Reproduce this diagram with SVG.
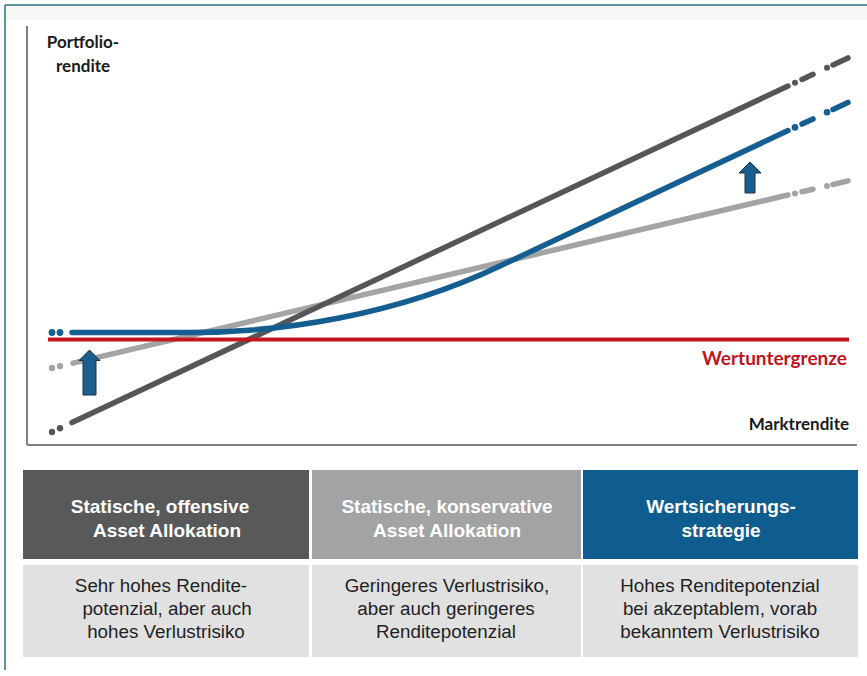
<svg xmlns="http://www.w3.org/2000/svg" width="867" height="676" viewBox="0 0 867 676">
<style>
.lbl{font-family:Lato,"Liberation Sans",sans-serif;font-weight:bold;fill:#1a1a1a}
.hd{font-family:"Liberation Sans",Arial,sans-serif;font-weight:bold;font-size:19px;fill:#ffffff;text-anchor:middle}
.bd{font-family:"Liberation Sans",Arial,sans-serif;font-size:18.8px;fill:#1f1f1f;text-anchor:middle}
.ln{fill:none;stroke-linecap:round;stroke-width:5.5}
.dk{stroke:#555658}.dkf{fill:#555658}
.lt{stroke:#a4a4a4}.ltf{fill:#a4a4a4}
.bl{stroke:#155e92}.blf{fill:#155e92}
.arrow{fill:#1b5d8c;stroke:#163449;stroke-width:1}
</style>
<rect x="0" y="0" width="867" height="676" fill="#ffffff"/>
<rect x="6" y="6" width="861" height="14" fill="#f6f7f7"/>
<g id="frame" stroke="#2e6f86" stroke-width="1.5" fill="none">
  <line x1="5" y1="5" x2="867" y2="5"/>
  <line x1="5" y1="5" x2="5" y2="670"/>
</g>
<g id="axes" stroke="#808080" stroke-width="2" fill="none">
  <line x1="27" y1="26" x2="27" y2="445"/>
  <line x1="27" y1="445" x2="857" y2="445"/>
</g>
<g id="axis-labels" class="lbl">
  <text x="83" y="48" font-size="17" text-anchor="middle">Portfolio-</text>
  <text x="83" y="72" font-size="17" text-anchor="middle">rendite</text>
  <text x="849" y="430" font-size="17" text-anchor="end">Marktrendite</text>
</g>
<g id="connectors">
  <g id="curve-konservativ">
    <circle class="ltf" cx="52" cy="368" r="3.2"/>
    <circle class="ltf" cx="60" cy="366.1" r="3.2"/>
    <path class="ln lt" d="M73 363.1 L788 195"/>
    <circle class="ltf" cx="795" cy="193.4" r="3"/>
    <path class="ln lt" d="M802 191.8 L813 189.2"/>
    <circle class="ltf" cx="827" cy="185.9" r="3"/>
    <path class="ln lt" d="M833 184.5 L848 180.9"/>
  </g>
  <g id="curve-offensiv">
    <circle class="dkf" cx="52" cy="432" r="3.2"/>
    <circle class="dkf" cx="60" cy="428.2" r="3.2"/>
    <path class="ln dk" d="M72 422.6 L788 86.1"/>
    <circle class="dkf" cx="795" cy="82.8" r="3"/>
    <path class="ln dk" d="M802 79.5 L813 74.3"/>
    <circle class="dkf" cx="827" cy="67.8" r="3"/>
    <path class="ln dk" d="M833 64.9 L848 57.9"/>
  </g>
  <g id="curve-wertsicherung">
    <circle class="blf" cx="52" cy="332.5" r="3.4"/>
    <circle class="blf" cx="60" cy="332.5" r="3.4"/>
    <path class="ln bl" stroke-width="6.5" d="M72 332.5 L190 332.5 C280 332.5 395 316 500 266 L788 130.6"/>
    <circle class="blf" cx="795" cy="127.4" r="3.3"/>
    <path class="ln bl" stroke-width="6.5" d="M802 124.1 L813 118.9"/>
    <circle class="blf" cx="827" cy="112.3" r="3.3"/>
    <path class="ln bl" stroke-width="6.5" d="M833 109.5 L848 102.4"/>
  </g>
  <line id="wertuntergrenze-line" x1="48" y1="339.5" x2="849" y2="339.5" stroke="#c5161d" stroke-width="4"/>
  <polygon class="arrow" points="89.5,350 100,360.5 96,360.5 96,395 83,395 83,360.5 79,360.5"/>
  <polygon class="arrow" points="750,162 761,173 755,173 755,193 745,193 745,173 739,173"/>
</g>
<g id="label-wertuntergrenze">
  <text x="847" y="365" font-family="Lato,'Liberation Sans',sans-serif" font-weight="bold" font-size="19" fill="#c0141c" text-anchor="end">Wertuntergrenze</text>
</g>
<g id="head-offensiv">
  <rect x="23" y="470" width="286" height="89" fill="#58595b"/>
  <text class="hd" x="160" y="513">Statische, offensive</text>
  <text class="hd" x="167" y="536.5">Asset Allokation</text>
</g>
<g id="head-konservativ">
  <rect x="312" y="470" width="269" height="89" fill="#a2a3a5"/>
  <text class="hd" x="447" y="513">Statische, konservative</text>
  <text class="hd" x="447" y="536.5">Asset Allokation</text>
</g>
<g id="head-wertsicherung">
  <rect x="583" y="470" width="275" height="89" fill="#0f5c8e"/>
  <text class="hd" x="721" y="513">Wertsicherungs-</text>
  <text class="hd" x="721" y="536.5">strategie</text>
</g>
<g id="body-offensiv">
  <rect x="23" y="565" width="286" height="92" fill="#e1e1e2"/>
  <text class="bd" x="161" y="592">Sehr hohes Rendite-</text>
  <text class="bd" x="167" y="615">potenzial, aber auch</text>
  <text class="bd" x="166" y="638">hohes Verlustrisiko</text>
</g>
<g id="body-konservativ">
  <rect x="312" y="565" width="269" height="92" fill="#e1e1e2"/>
  <text class="bd" x="447" y="592">Geringeres Verlustrisiko,</text>
  <text class="bd" x="446" y="615">aber auch geringeres</text>
  <text class="bd" x="446" y="638">Renditepotenzial</text>
</g>
<g id="body-wertsicherung">
  <rect x="583" y="565" width="275" height="92" fill="#e1e1e2"/>
  <text class="bd" x="720" y="592">Hohes Renditepotenzial</text>
  <text class="bd" x="720" y="615">bei akzeptablem, vorab</text>
  <text class="bd" x="720" y="638">bekanntem Verlustrisiko</text>
</g>
</svg>
